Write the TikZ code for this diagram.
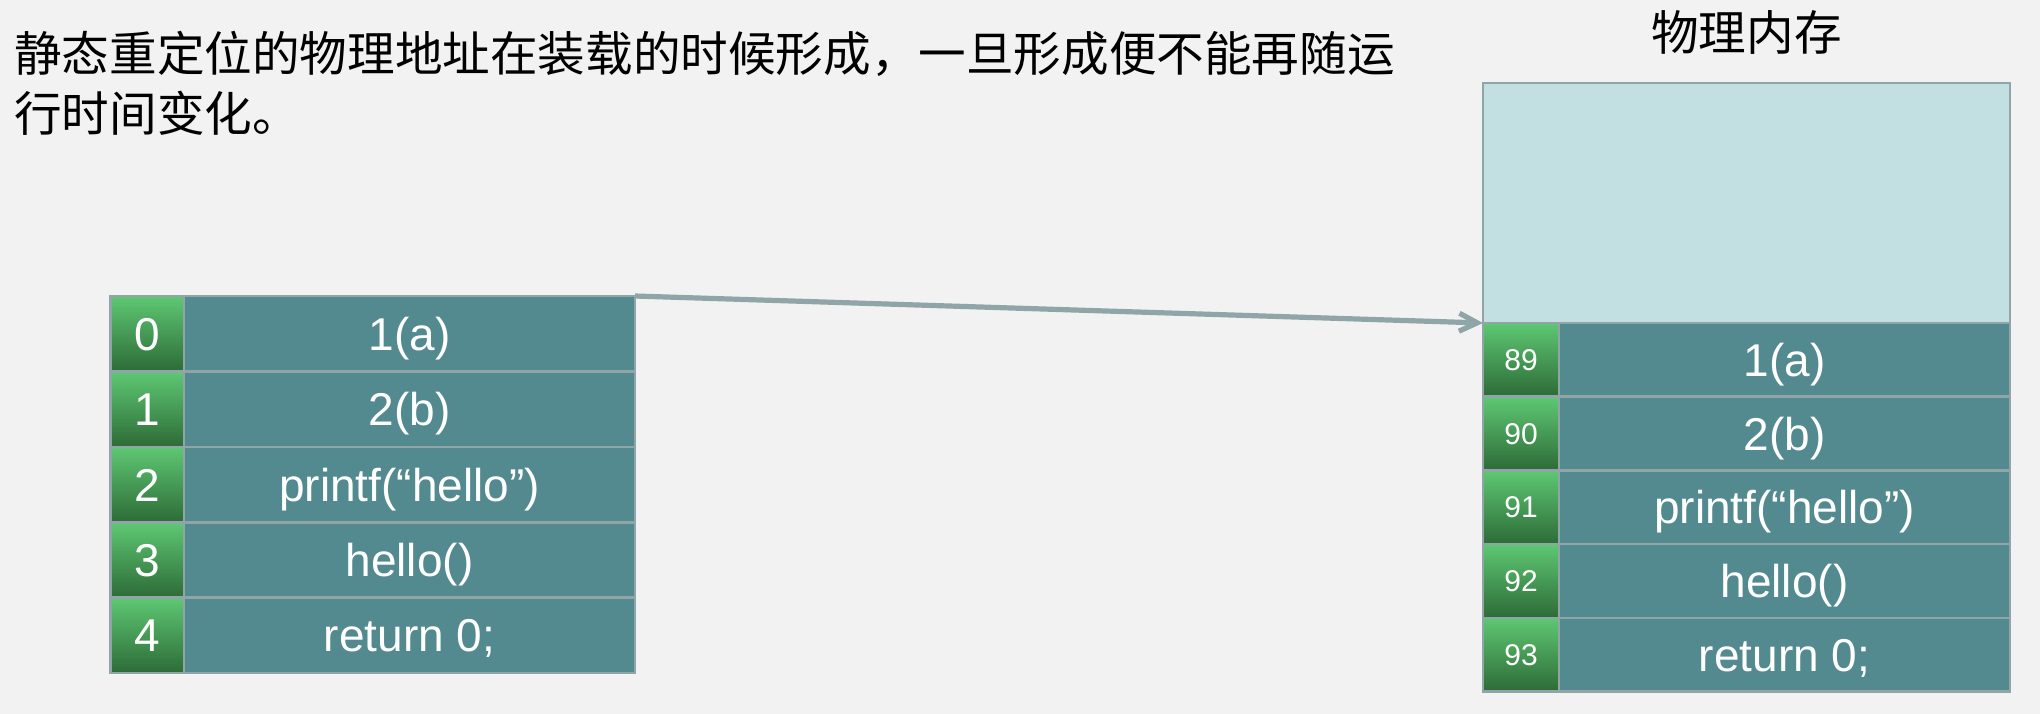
\documentclass[tikz,border=0pt]{standalone}
\usepackage{fontspec}
\setmainfont{Liberation Sans}
\newfontfamily\cjk{Noto Sans CJK SC}
\usetikzlibrary{arrows.meta}
\usetikzlibrary{positioning}

\definecolor{bg}{HTML}{F2F2F2}
\definecolor{cell}{HTML}{528A90}
\definecolor{frame}{HTML}{8FA5A8}
\definecolor{memfill}{HTML}{C2E0E1}
\definecolor{gtop}{HTML}{5EC873}
\definecolor{gbot}{HTML}{2D6B37}

\begin{document}
\begin{tikzpicture}
 \fill [bg] (0,0) rectangle (1020pt,-357pt);
 \useasboundingbox (0,0) rectangle (1020pt,-357pt);

 \tikzstyle{box} = [draw=frame, line width=1.3pt, outer sep=0pt, inner sep=0pt, text=white, text height=16.5pt, text depth=0pt];
 \tikzstyle{lnum} = [box, top color=gtop, bottom color=gbot, minimum width=36.7pt, minimum height=37.7pt, font=\fontsize{23pt}{23pt}\selectfont];
 \tikzstyle{lrow} = [box, fill=cell, minimum width=225.5pt, minimum height=37.7pt, font=\fontsize{23pt}{23pt}\selectfont];
 \tikzstyle{rnum} = [box, top color=gtop, bottom color=gbot, minimum width=38pt, minimum height=36.85pt, text height=10.7pt, font=\fontsize{15pt}{15pt}\selectfont];
 \tikzstyle{rrow} = [box, fill=cell, minimum width=225.5pt, minimum height=36.85pt, font=\fontsize{23pt}{23pt}\selectfont];

 \node (note) [anchor=north west, inner sep=0pt, align=left, font=\cjk\fontsize{23.8pt}{30pt}\selectfont] at (7pt,-15.5pt) {静态重定位的物理地址在装载的时候形成，一旦形成便不能再随运\\行时间变化。};

 \node (n0) [lnum, anchor=north west] at (55.3pt,-148pt) {0};
 \node (r0) [lrow, right=0pt of n0] {1(a)};
 \node (n1) [lnum, below=0pt of n0] {1};
 \node (r1) [lrow, right=0pt of n1] {2(b)};
 \node (n2) [lnum, below=0pt of n1] {2};
 \node (r2) [lrow, right=0pt of n2] {printf(“hello”)};
 \node (n3) [lnum, below=0pt of n2] {3};
 \node (r3) [lrow, right=0pt of n3] {hello()};
 \node (n4) [lnum, below=0pt of n3] {4};
 \node (r4) [lrow, right=0pt of n4] {return 0;};

 \node (memory) [box, fill=memfill, anchor=north west, minimum width=263.5pt, minimum height=120pt] at (741.5pt,-41.5pt) {};
 \node (title) [above=14pt of memory, inner sep=0pt, font=\cjk\fontsize{23.8pt}{23.8pt}\selectfont] {物理内存};

 \node (m0) [rnum, anchor=north west] at (memory.south west) {89};
 \node (s0) [rrow, right=0pt of m0] {1(a)};
 \node (m1) [rnum, below=0pt of m0] {90};
 \node (s1) [rrow, right=0pt of m1] {2(b)};
 \node (m2) [rnum, below=0pt of m1] {91};
 \node (s2) [rrow, right=0pt of m2] {printf(“hello”)};
 \node (m3) [rnum, below=0pt of m2] {92};
 \node (s3) [rrow, right=0pt of m3] {hello()};
 \node (m4) [rnum, below=0pt of m3] {93};
 \node (s4) [rrow, right=0pt of m4] {return 0;};

 \draw [-{Straight Barb[length=9pt,width=9pt]}, frame, line width=2.6pt] (r0.north east) -- (memory.south west);

\end{tikzpicture}
\end{document}
